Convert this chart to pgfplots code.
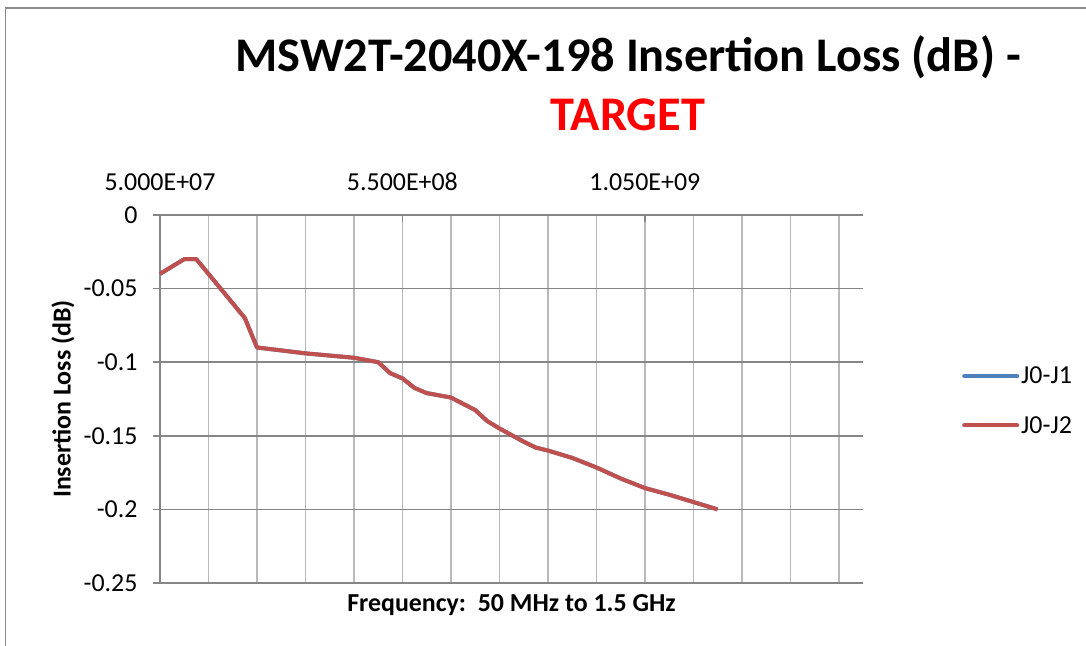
\documentclass[border=0pt]{standalone}
\usepackage{pgfplots}
\pgfplotsset{compat=1.18}
\usepackage{pgfplotstable}
\usepackage{fontspec}
\setmainfont{Carlito}
\definecolor{serA}{RGB}{79,129,189}
\definecolor{serB}{RGB}{192,80,77}
\definecolor{gridV}{RGB}{185,185,185}
\definecolor{gridH}{RGB}{134,134,134}
\definecolor{frameC}{RGB}{140,140,140}
\definecolor{titleRed}{RGB}{255,0,0}
\pgfplotstableread{
f v
50 -0.040
100 -0.030
125 -0.030
225 -0.070
250 -0.090
350 -0.094
450 -0.097
500 -0.100
525 -0.1075
550 -0.111
575 -0.1175
600 -0.121
650 -0.124
700 -0.1325
725 -0.140
750 -0.145
800 -0.154
825 -0.158
850 -0.160
900 -0.165
950 -0.1715
1000 -0.179
1050 -0.1855
1100 -0.190
1150 -0.195
1200 -0.200
}\dataA
\pgfplotstableread{
f v
50 -0.040
100 -0.030
125 -0.030
225 -0.070
250 -0.090
350 -0.094
450 -0.097
500 -0.100
525 -0.1075
550 -0.111
575 -0.1175
600 -0.121
650 -0.124
700 -0.1325
725 -0.140
750 -0.145
800 -0.154
825 -0.158
850 -0.160
900 -0.165
950 -0.1715
1000 -0.179
1050 -0.1855
1100 -0.190
1150 -0.195
1200 -0.200
}\dataB
\begin{document}
\begin{tikzpicture}[x=1bp,y=1bp]
\path[use as bounding box] (0,0) rectangle (1086,646);
\draw[frameC, line width=1.5bp] (5.5,0) -- (5.5,638) -- (1086,638);
\node[font=\fontsize{48.5}{52}\selectfont\bfseries] at (628,589) {MSW2T-2040X-198 Insertion Loss (dB) -};
\node[font=\fontsize{48.5}{52}\selectfont\bfseries, text=titleRed] at (628,531) {TARGET};
\begin{axis}[
  at={(160bp,63bp)}, anchor=south west,
  width=703bp, height=368bp, scale only axis,
  xmin=50, xmax=1500, ymin=-0.25, ymax=0,
  axis x line*=top, axis y line*=left,
  axis line style={draw=gridH, line width=1.5bp},
  xtick={50,150,...,1450},
  xticklabels={5.000E+07,,,,,5.500E+08,,,,,1.050E+09,,,,},
  ytick={-0.25,-0.2,-0.15,-0.1,-0.05,0},
  yticklabels={-0.25,-0.2,-0.15,-0.1,-0.05,0},
  xmajorgrids, ymajorgrids,
  x grid style={draw=gridV, line width=1.5bp},
  y grid style={draw=gridH, line width=1.5bp},
  x tick style={draw=none},
  y tick style={draw=gridH, line width=1.5bp},
  tick align=outside,
  major tick length=7bp,
  ticklabel style={font=\fontsize{26}{28}\selectfont},
  xticklabel style={yshift=14bp},
  yticklabel style={xshift=-12bp},
  extra x ticks={50,550,1050},
  extra x tick labels={},
  extra x tick style={grid=none, tick align=inside, major tick length=7bp, x tick style={draw=gridH, line width=1.5bp}},
  xlabel={Frequency:\ \ 50 MHz to 1.5 GHz},
  ylabel={Insertion Loss (dB)},
  label style={font=\fontsize{26}{28}\selectfont\bfseries},
  xlabel style={at={(axis description cs:0.5,-0.06)}, anchor=center},
  ylabel style={at={(axis description cs:-0.138,0.5)}, anchor=center},
  legend style={at={(axis description cs:1.1408,0.495)}, anchor=west, draw=none, fill=none,
    font=\fontsize{26}{28}\selectfont, row sep=27bp, inner sep=0pt,
    nodes={inner sep=2bp}},
  legend cell align=left,
  legend image code/.code={\draw[#1, line cap=round] (0bp,0bp) -- (53bp,0bp);},
  clip=false,
]
\addplot[serA, line width=4bp, line join=round] table[x=f, y=v] {\dataA};
\addlegendentry{J0-J1}
\addplot[serB, line width=4bp, line join=round] table[x=f, y=v] {\dataB};
\addlegendentry{J0-J2}
\end{axis}
\end{tikzpicture}
\end{document}
